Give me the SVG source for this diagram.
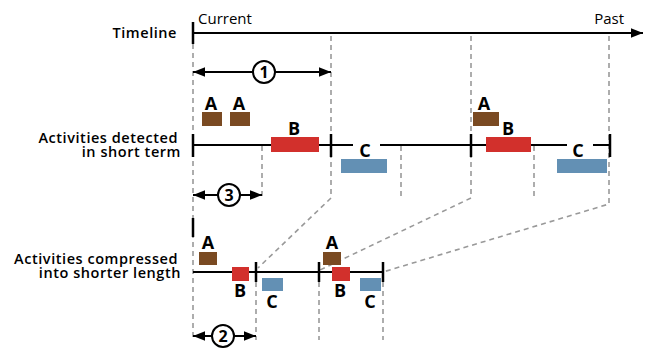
<svg xmlns="http://www.w3.org/2000/svg" width="646" height="348" viewBox="0 0 646 348">
<defs>
<marker id="ahb" viewBox="0 0 10 10" refX="10" refY="5" markerWidth="16" markerHeight="12" markerUnits="userSpaceOnUse" orient="auto-start-reverse"><path d="M0,1 L10,5 L0,9 Z" fill="#000"/></marker>
<style>
.lbl{font-family:"Open Sans","Liberation Sans",sans-serif;font-weight:600;font-size:14.5px;letter-spacing:0.55px;fill:#000;text-anchor:end}
.tt{font-family:"Open Sans","Liberation Sans",sans-serif;font-size:15px;fill:#000}
.let{font-family:"Open Sans","Liberation Sans",sans-serif;font-weight:700;font-size:18px;fill:#000;text-anchor:middle}
.num{font-family:"Open Sans","Liberation Sans",sans-serif;font-weight:700;font-size:16px;fill:#000;text-anchor:middle}
.ax{stroke:#000;stroke-width:2;fill:none}
.tick{stroke:#000;stroke-width:2.5}
.dash{stroke:#999;stroke-width:1.6;stroke-dasharray:5,4;fill:none}
.a{fill:#7A4A22}
.b{fill:#D2302C}
.c{fill:#6390B4}
.circ{fill:#fff;stroke:#000;stroke-width:2}
</style>
</defs>

<g id="connectors">
<path class="dash" d="M193,44 V340"/>
<path class="dash" d="M331,36 V198 L258,268"/>
<path class="dash" d="M471,36 V198 L320,270"/>
<path class="dash" d="M609,36 V204 L383,272"/>
<path class="dash" d="M262,146 V200"/>
<path class="dash" d="M401,146 V200"/>
<path class="dash" d="M534,146 V200"/>
<path class="dash" d="M256,282 V340"/>
<path class="dash" d="M319,282 V340"/>
<path class="dash" d="M383,282 V340"/>
<line class="ax" x1="193" y1="72" x2="331" y2="72" marker-start="url(#ahb)" marker-end="url(#ahb)"/>
<line class="ax" x1="193" y1="195" x2="262" y2="195" marker-start="url(#ahb)" marker-end="url(#ahb)"/>
<line class="ax" x1="193" y1="336" x2="256" y2="336" marker-start="url(#ahb)" marker-end="url(#ahb)"/>
</g>

<g id="timeline">
<text class="lbl" x="177" y="38">Timeline</text>
<line class="ax" x1="193" y1="33" x2="643" y2="33" marker-end="url(#ahb)"/>
<line class="tick" x1="193" y1="22" x2="193" y2="44"/>
<text class="tt" x="198" y="24">Current</text>
<text class="tt" x="624" y="24" text-anchor="end">Past</text>
</g>

<g id="label1">
<circle class="circ" cx="264" cy="72" r="11"/>
<text class="num" x="264" y="77.5">1</text>
</g>
<g id="label3">
<circle class="circ" cx="229" cy="195" r="11"/>
<text class="num" x="229" y="200.5">3</text>
</g>
<g id="label2">
<circle class="circ" cx="223" cy="336" r="11"/>
<text class="num" x="223" y="341.5">2</text>
</g>

<g id="shortterm">
<text class="lbl"><tspan x="178" y="143">Activities detected</tspan><tspan x="181" y="157">in short term</tspan></text>
<path class="ax" d="M193,145 H353 M380,145 H567 M593,145 H610"/>
<line class="tick" x1="193" y1="134" x2="193" y2="157"/>
<line class="tick" x1="331" y1="134" x2="331" y2="157"/>
<line class="tick" x1="471" y1="134" x2="471" y2="157"/>
<line class="tick" x1="610" y1="134" x2="610" y2="157"/>
<rect class="a" x="202" y="112" width="20" height="14"/>
<text class="let" x="211" y="110">A</text>
<rect class="a" x="230" y="112" width="20" height="14"/>
<text class="let" x="239" y="110">A</text>
<rect class="b" x="271" y="137" width="48" height="15"/>
<text class="let" x="294" y="135">B</text>
<text class="let" x="365" y="157">C</text>
<rect class="c" x="341" y="159" width="46" height="14"/>
<rect class="a" x="473" y="112" width="26" height="14"/>
<text class="let" x="484" y="110">A</text>
<rect class="b" x="486" y="137" width="45" height="15"/>
<text class="let" x="508" y="135">B</text>
<text class="let" x="578" y="157">C</text>
<rect class="c" x="557" y="159" width="50" height="14"/>
</g>

<g id="compressed">
<text class="lbl"><tspan x="178" y="264">Activities compressed</tspan><tspan x="181" y="278">into shorter length</tspan></text>
<line class="ax" x1="193" y1="272" x2="383" y2="272"/>
<line class="tick" x1="193" y1="218" x2="193" y2="237"/>
<line class="tick" x1="256" y1="262" x2="256" y2="282"/>
<line class="tick" x1="319" y1="262" x2="319" y2="282"/>
<line class="tick" x1="383" y1="262" x2="383" y2="282"/>
<rect class="a" x="199" y="252" width="18" height="13"/>
<text class="let" x="208" y="249">A</text>
<rect class="b" x="232" y="267" width="17" height="14"/>
<text class="let" x="240" y="297">B</text>
<rect class="c" x="262" y="278" width="21" height="13"/>
<text class="let" x="272" y="308">C</text>
<rect class="a" x="323" y="252" width="18" height="13"/>
<text class="let" x="332" y="249">A</text>
<rect class="b" x="332" y="267" width="18" height="14"/>
<text class="let" x="340" y="297">B</text>
<rect class="c" x="360" y="278" width="21" height="13"/>
<text class="let" x="370" y="308">C</text>
</g>
</svg>
